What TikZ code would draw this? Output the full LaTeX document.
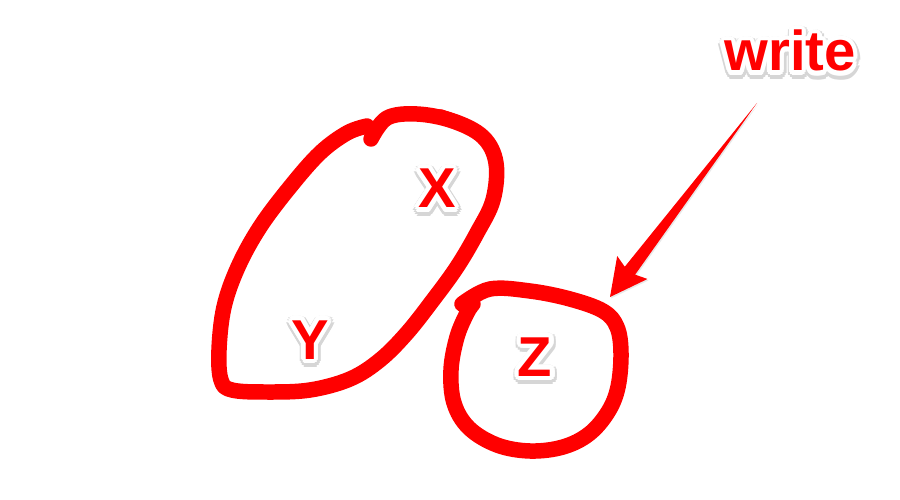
\documentclass[tikz,border=0pt]{standalone}
\usepackage{fontspec}
\setmainfont{Liberation Sans}
\usepackage{contour}
\usetikzlibrary{calc,shadows}

% red letter with white rim and a soft grey shadow
\newcommand{\stamp}[1]{%
  \leavevmode\rlap{\raisebox{-1.3pt}{\hspace{0.4pt}\contourlength{3.6pt}\contour{black!16}{\color{black!16}#1}}}%
  \contourlength{2.6pt}\contour{white}{\color{red}#1}}

\begin{document}
\begin{tikzpicture}[x=0.02cm, y=-0.02cm, font=\fontsize{32}{32}\selectfont\bfseries,
    penloop/.style={red, line width=0.31cm, line cap=round, line join=round}]
  \useasboundingbox (0,0) rectangle (900,500);
  % first ring, round X and Y
  \draw[penloop] plot[smooth, tension=0.6] coordinates {(371,139) (387,118) (417,114) (453,121) (483,137)
    (496,163) (493,200) (477,233) (457,267) (433,300) (407,333) (380,360) (350,379) (310,390)
    (267,392) (232,390) (221,380) (219,350) (224,307) (238,267) (260,227) (290,187) (320,153)
    (347,133) (367,126)};
  % thicker top right of the first ring
  \draw[penloop, line width=0.2cm] plot[smooth, tension=0.6] coordinates {(440,114) (470,126) (490,143) (498,165) (496,190)};
  % second ring, round Z
  \draw[penloop] plot[smooth, tension=0.6] coordinates {(462,304) (490,289) (530,291) (570,299) (603,311)
    (617,327) (621,353) (618,387) (608,412) (589,434) (563,447) (530,451) (497,445) (469,428)
    (454,403) (451,370) (457,337) (467,313) (473,304)};
  % tapered pointer
  \coordinate (tail) at (757,103);
  \coordinate (tip) at (610,297);
  \coordinate (hb) at ($(tip)!0.74cm!(tail)$);
  \coordinate (hj) at ($(tip)!0.66cm!(tail)$);
  \fill[red, drop shadow={opacity=0.18, shadow xshift=0.6pt, shadow yshift=-0.8pt}]
    (tail) -- ($(hj)!0.13cm!90:(tail)$) -- ($(hb)!0.38cm!90:(tail)$) -- (tip)
    -- ($(hb)!0.38cm!-90:(tail)$) -- ($(hj)!0.13cm!-90:(tail)$) -- cycle;
  \foreach \xx/\yy/\lab in {437/208/X, 310/359/Y, 535/376/Z} {
    \node[anchor=base, inner sep=0pt] (\lab) at (\xx,\yy) {\stamp{\lab}};
  }
  \node[anchor=base, inner sep=0pt] (write) at (790,71) {\stamp{write}};
\end{tikzpicture}
\end{document}
